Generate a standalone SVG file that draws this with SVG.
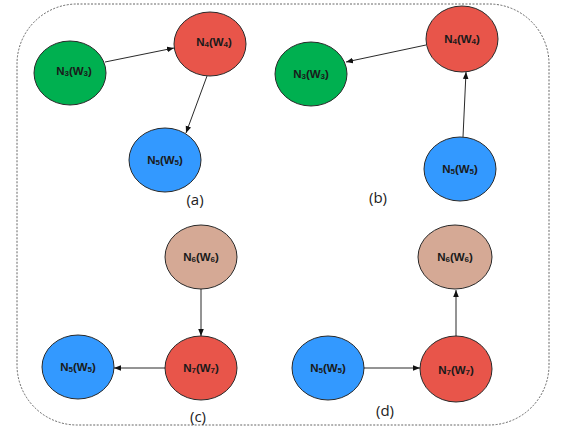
<svg xmlns="http://www.w3.org/2000/svg" width="566" height="437" viewBox="0 0 566 437">
  <defs>
    <marker id="arrow" viewBox="0 0 10 10" refX="10" refY="5" markerWidth="7" markerHeight="7" orient="auto" markerUnits="userSpaceOnUse">
      <path d="M0,1 L10,5 L0,9 Z" fill="#111"/>
    </marker>
    <style>
      .frame { fill: none; stroke: #555; stroke-width: 0.9; stroke-dasharray: 2 1.5; }
      .node { stroke: #2a2a2a; stroke-width: 1; }
      .green { fill: #00b050; }
      .red { fill: #e8554a; }
      .blue { fill: #3399ff; }
      .tan { fill: #d5a995; }
      .lbl { font-family: "Liberation Sans", Arial, sans-serif; font-weight: bold; font-size: 11.5px; fill: #1a1a1a; text-anchor: middle; }
      .sub { font-size: 8px; }
      .cap { font-family: "Open Sans", "Liberation Sans", sans-serif; font-size: 15px; fill: #222; text-anchor: middle; }
      .edge { stroke: #111; stroke-width: 0.9; fill: none; marker-end: url(#arrow); }
    </style>
  </defs>

  <rect x="17" y="4" width="532" height="421" rx="60" ry="60" class="frame"/>

  <!-- panel (a) -->
  <g id="a-n3"><ellipse cx="70" cy="73" rx="36" ry="32" class="node green"/><text x="74" y="75" class="lbl">N<tspan class="sub" dy="1">3</tspan><tspan dy="-1">(W</tspan><tspan class="sub" dy="1">3</tspan><tspan dy="-1">)</tspan></text></g>
  <g id="a-n4"><ellipse cx="210" cy="44" rx="36" ry="32" class="node red"/><text x="214" y="46" class="lbl">N<tspan class="sub" dy="1">4</tspan><tspan dy="-1">(W</tspan><tspan class="sub" dy="1">4</tspan><tspan dy="-1">)</tspan></text></g>
  <g id="a-n5"><ellipse cx="165" cy="160" rx="36" ry="32" class="node blue"/><text x="165" y="164" class="lbl">N<tspan class="sub" dy="1">5</tspan><tspan dy="-1">(W</tspan><tspan class="sub" dy="1">5</tspan><tspan dy="-1">)</tspan></text></g>
  <text x="195" y="205" class="cap">(a)</text>

  <!-- panel (b) -->
  <g id="b-n3"><ellipse cx="311" cy="74" rx="36" ry="32" class="node green"/><text x="311" y="78" class="lbl">N<tspan class="sub" dy="1">3</tspan><tspan dy="-1">(W</tspan><tspan class="sub" dy="1">3</tspan><tspan dy="-1">)</tspan></text></g>
  <g id="b-n4"><ellipse cx="462" cy="39" rx="36" ry="33" class="node red"/><text x="462" y="43" class="lbl">N<tspan class="sub" dy="1">4</tspan><tspan dy="-1">(W</tspan><tspan class="sub" dy="1">4</tspan><tspan dy="-1">)</tspan></text></g>
  <g id="b-n5"><ellipse cx="460" cy="169" rx="36" ry="32" class="node blue"/><text x="460" y="173" class="lbl">N<tspan class="sub" dy="1">5</tspan><tspan dy="-1">(W</tspan><tspan class="sub" dy="1">5</tspan><tspan dy="-1">)</tspan></text></g>
  <text x="378" y="203" class="cap">(b)</text>

  <!-- panel (c) -->
  <g id="c-n6"><ellipse cx="201" cy="257" rx="36" ry="32" class="node tan"/><text x="201" y="261" class="lbl">N<tspan class="sub" dy="1">6</tspan><tspan dy="-1">(W</tspan><tspan class="sub" dy="1">6</tspan><tspan dy="-1">)</tspan></text></g>
  <g id="c-n7"><ellipse cx="201" cy="368" rx="36" ry="32" class="node red"/><text x="201" y="372" class="lbl">N<tspan class="sub" dy="1">7</tspan><tspan dy="-1">(W</tspan><tspan class="sub" dy="1">7</tspan><tspan dy="-1">)</tspan></text></g>
  <g id="c-n5"><ellipse cx="78" cy="367" rx="36" ry="32" class="node blue"/><text x="78" y="371" class="lbl">N<tspan class="sub" dy="1">5</tspan><tspan dy="-1">(W</tspan><tspan class="sub" dy="1">5</tspan><tspan dy="-1">)</tspan></text></g>
  <text x="198" y="422" class="cap">(c)</text>

  <!-- panel (d) -->
  <g id="d-n6"><ellipse cx="455" cy="257" rx="37" ry="32" class="node tan"/><text x="455" y="261" class="lbl">N<tspan class="sub" dy="1">6</tspan><tspan dy="-1">(W</tspan><tspan class="sub" dy="1">6</tspan><tspan dy="-1">)</tspan></text></g>
  <g id="d-n7"><ellipse cx="456" cy="369" rx="36" ry="33" class="node red"/><text x="456" y="374" class="lbl">N<tspan class="sub" dy="1">7</tspan><tspan dy="-1">(W</tspan><tspan class="sub" dy="1">7</tspan><tspan dy="-1">)</tspan></text></g>
  <g id="d-n5"><ellipse cx="328" cy="368" rx="36" ry="32" class="node blue"/><text x="328" y="372" class="lbl">N<tspan class="sub" dy="1">5</tspan><tspan dy="-1">(W</tspan><tspan class="sub" dy="1">5</tspan><tspan dy="-1">)</tspan></text></g>
  <text x="385" y="416" class="cap">(d)</text>

  <g id="connectors">
    <line x1="105" y1="62" x2="174" y2="48" class="edge"/>
    <line x1="207" y1="76" x2="186" y2="133" class="edge"/>
    <line x1="426" y1="45" x2="346" y2="62" class="edge"/>
    <line x1="463" y1="137" x2="466" y2="72" class="edge"/>
    <line x1="201" y1="289" x2="201" y2="336" class="edge"/>
    <line x1="165" y1="368" x2="114" y2="368" class="edge"/>
    <line x1="364" y1="368" x2="420" y2="368" class="edge"/>
    <line x1="456" y1="336" x2="456" y2="290" class="edge"/>
  </g>
</svg>
